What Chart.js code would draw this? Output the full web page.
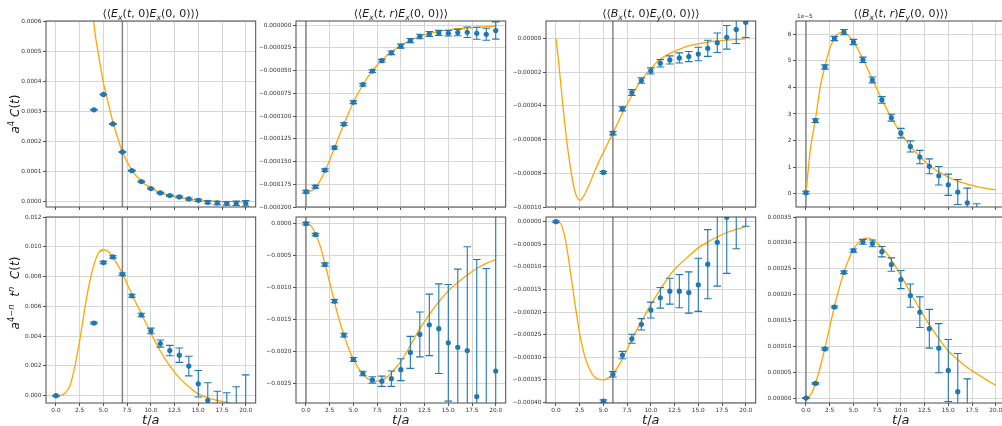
<!DOCTYPE html>
<html><head><meta charset="utf-8">
<script src="https://cdn.jsdelivr.net/npm/chart.js@4.4.1/dist/chart.umd.min.js"></script>
<style>
html,body{margin:0;padding:0;background:#fff;}
#wrap{position:relative;width:1002px;height:426px;overflow:hidden;font-family:"DejaVu Sans",sans-serif;color:#1a1a1a;}
canvas{position:absolute;}
.lbl{position:absolute;white-space:nowrap;line-height:1;}
.lbl sub,.lbl sup{font-size:70%;line-height:0;}
.ttl{font-size:11px;transform:translate(-50%,-50%);}
.yl{font-size:12px;transform:translate(-50%,-50%) rotate(-90deg);}
.xl{font-size:13px;transform:translate(-50%,-50%);}
.off{font-size:5.8px;color:#333;}
</style></head><body><div id="wrap"></div>
<script>
// ---------- shared axis ticks ----------
const xTicks = [0, 2.5, 5, 7.5, 10, 12.5, 15, 17.5, 20];

// ---------- <<E_x(t,0)E_x(0,0)>> ----------
const tA = [4,5,6,7,8,9,10,11,12,13,14,15,16,17,18,19,20];
const cA = [3.05e-4,3.56e-4,2.58e-4,1.65e-4,1.03e-4,6.66e-5,4.33e-5,2.88e-5,2.0e-5,1.55e-5,8.9e-6,4.4e-6,-2.2e-6,-4.4e-6,-5.5e-6,-5.5e-6,-5.5e-6];
const eA = [1.5e-6,1.5e-6,1.5e-6,1.5e-6,1.6e-6,1.7e-6,1.9e-6,2.1e-6,2.4e-6,2.8e-6,3.4e-6,4e-6,4.7e-6,5.5e-6,6.2e-6,7.2e-6,9e-6];
const fitA_t = [3.5,4,4.5,5,5.5,6,6.5,7,8,9,10,11,12,13,14,15,16,17,18,19,20];
const fitA_y = [8.0e-4,5.9e-4,4.85e-4,3.95e-4,3.28e-4,2.65e-4,2.12e-4,1.66e-4,1.05e-4,6.8e-5,4.5e-5,3.0e-5,2.0e-5,1.3e-5,8e-6,5e-6,3e-6,1.2e-6,3e-7,-2e-7,-4e-7];
const yTicksA = [0,1e-4,2e-4,3e-4,4e-4,5e-4,6e-4];

const tA2 = [0,4,5,6,7,8,9,10,11,12,13,14,15,16,17,18,19,20];
const cA2 = [0,0.00488,0.00894,0.00932,0.00816,0.00671,0.00542,0.00435,0.0035,0.00303,0.00272,0.00199,0.0008,-0.00033,-0.0013,-0.0018,-0.002,-0.0022];
const eA2 = [0.00003,0.00006,0.00008,0.00008,0.00008,0.0001,0.00012,0.00019,0.00024,0.00035,0.00048,0.00066,0.00089,0.0012,0.0016,0.002,0.0026,0.0036];
const fitA2_t = [0,0.5,1,1.5,2,2.5,3,3.5,4,4.5,5,5.5,6,6.5,7,8,9,10,11,12,13,14,15,16,17,18,19,20];
const fitA2_y = [0,0.00002,0.0002,0.0007,0.002,0.0037,0.0057,0.0075,0.0088,0.0096,0.0098,0.0097,0.0093,0.0088,0.0082,0.0068,0.0055,0.0042,0.003,0.002,0.0012,0.0006,0.00012,-0.00015,-0.00031,-0.00045,-0.00055,-0.0006];
const yTicksA2 = [0,0.002,0.004,0.006,0.008,0.010,0.012];

// ---------- <<E_x(t,r)E_x(0,0)>> ----------
const tB = [0,1,2,3,4,5,6,7,8,9,10,11,12,13,14,15,16,17,18,19,20];
const cB = [-1.832e-4,-1.777e-4,-1.595e-4,-1.347e-4,-1.088e-4,-8.47e-5,-6.53e-5,-5.04e-5,-3.9e-5,-3.03e-5,-2.3e-5,-1.68e-5,-1.24e-5,-9.5e-6,-8.4e-6,-8.8e-6,-8.0e-6,-7.7e-6,-8.8e-6,-9.9e-6,-5.8e-6];
const eB = [1.5e-6,1.5e-6,1.5e-6,1.5e-6,1.5e-6,1.5e-6,1.5e-6,1.5e-6,1.5e-6,2e-6,2.2e-6,2.3e-6,2.5e-6,2.7e-6,2.8e-6,3e-6,3.5e-6,5.8e-6,6.6e-6,6.6e-6,9.5e-6];
const fitB_t = [0,0.5,1,1.5,2,3,4,5,6,7,8,9,10,11,12,13,14,15,16,17,18,19,20];
const fitB_y = [-1.84e-4,-1.825e-4,-1.79e-4,-1.71e-4,-1.61e-4,-1.35e-4,-1.09e-4,-8.47e-5,-6.55e-5,-5.0e-5,-3.85e-5,-2.92e-5,-2.22e-5,-1.66e-5,-1.23e-5,-9.0e-6,-6.6e-6,-5.0e-6,-3.8e-6,-3.0e-6,-2.4e-6,-1.6e-6,-8e-7];
const yTicksB = [0,-2.5e-5,-5e-5,-7.5e-5,-1e-4,-1.25e-4,-1.5e-4,-1.75e-4,-2e-4];

const tB2 = [0,1,2,3,4,5,6,7,8,9,10,11,12,13,14,15,16,17,18,19,20];
const cB2 = [0,-1.71e-4,-6.38e-4,-1.21e-3,-1.74e-3,-2.12e-3,-2.34e-3,-2.44e-3,-2.46e-3,-2.42e-3,-2.28e-3,-2.01e-3,-1.73e-3,-1.58e-3,-1.64e-3,-1.86e-3,-1.93e-3,-1.98e-3,-2.7e-3,-2.9e-3,-2.3e-3];
const eB2 = [2e-5,2e-5,2.5e-5,2.5e-5,3e-5,3e-5,3.5e-5,5e-5,8e-5,1.2e-4,1.7e-4,2.5e-4,3.5e-4,4.8e-4,7e-4,9.1e-4,1.22e-3,1.62e-3,2.14e-3,2.2e-3,2.8e-3];
const fitB2_t = [0,0.5,1,1.5,2,2.5,3,3.5,4,4.5,5,5.5,6,6.5,7,7.5,8,8.5,9,10,11,12,13,14,15,16,17,18,19,20];
const fitB2_y = [0,-3e-5,-1.5e-4,-3.5e-4,-6.2e-4,-9.2e-4,-1.22e-3,-1.5e-3,-1.74e-3,-1.95e-3,-2.12e-3,-2.25e-3,-2.35e-3,-2.42e-3,-2.45e-3,-2.46e-3,-2.44e-3,-2.4e-3,-2.33e-3,-2.15e-3,-1.9e-3,-1.64e-3,-1.42e-3,-1.22e-3,-1.05e-3,-9.2e-4,-8e-4,-7e-4,-6.2e-4,-5.6e-4];
const yTicksB2 = [0,-5e-4,-1e-3,-1.5e-3,-2e-3,-2.5e-3];

// ---------- <<B_x(t,0)E_y(0,0)>> ----------
const tC = [5,6,7,8,9,10,11,12,13,14,15,16,17,18,19,20];
const cC = [-7.95e-5,-5.62e-5,-4.18e-5,-3.21e-5,-2.5e-5,-1.93e-5,-1.48e-5,-1.28e-5,-1.16e-5,-1.08e-5,-9.3e-6,-5.9e-6,-2.6e-6,6e-7,5.3e-6,9.5e-6];
const eC = [6e-7,1e-6,1.2e-6,1.7e-6,1.6e-6,1.8e-6,2.2e-6,2.4e-6,3.0e-6,3.0e-6,4e-6,4.8e-6,5.8e-6,7e-6,8.3e-6,9e-6];
const fitC_t = [0,0.25,0.5,0.75,1,1.5,2,2.5,3,3.5,4,4.5,5,5.5,6,7,8,9,10,11,12,13,14,15,16,17,18,19,20];
const fitC_y = [0,-1.2e-5,-2.66e-5,-4.1e-5,-5.42e-5,-7.59e-5,-9.07e-5,-9.6e-5,-9.27e-5,-8.68e-5,-7.99e-5,-7.34e-5,-6.77e-5,-6.17e-5,-5.62e-5,-4.44e-5,-3.39e-5,-2.47e-5,-1.78e-5,-1.24e-5,-8.9e-6,-6.5e-6,-4.5e-6,-3.2e-6,-2.2e-6,-1.5e-6,-1e-6,-6e-7,-3e-7];
const yTicksC = [0,-2e-5,-4e-5,-6e-5,-8e-5,-1e-4];

const tC2 = [0,5,6,7,8,9,10,11,12,13,14,15,16,17,18,19,20];
const cC2 = [0,-3.97e-4,-3.375e-4,-2.95e-4,-2.59e-4,-2.27e-4,-1.956e-4,-1.684e-4,-1.537e-4,-1.537e-4,-1.566e-4,-1.397e-4,-9.41e-5,-4.56e-5,9.6e-6,1.0e-4,1.9e-4];
const eC2 = [2e-6,3e-6,5.9e-6,8.1e-6,1e-5,1.25e-5,1.76e-5,2.28e-5,2.87e-5,3.68e-5,4.56e-5,5.88e-5,7.64e-5,9.7e-5,1.24e-4,1.6e-4,2e-4];
const fitC2_t = [0,0.5,1,1.5,2,2.5,3,3.5,4,4.5,5,5.5,6,7,8,9,10,11,12,13,14,15,16,17,18,19,20];
const fitC2_y = [0,-4.4e-6,-4.1e-5,-1.07e-4,-1.81e-4,-2.47e-4,-2.95e-4,-3.24e-4,-3.42e-4,-3.49e-4,-3.5e-4,-3.46e-4,-3.37e-4,-3.04e-4,-2.6e-4,-2.21e-4,-1.83e-4,-1.5e-4,-1.18e-4,-9.5e-5,-7.6e-5,-5.8e-5,-4.5e-5,-3.4e-5,-2.4e-5,-1.7e-5,-1.1e-5];
const yTicksC2 = [0,-5e-5,-1e-4,-1.5e-4,-2e-4,-2.5e-4,-3e-4,-3.5e-4,-4e-4];

// ---------- <<B_x(t,r)E_y(0,0)>> ----------
const tD = [0,1,2,3,4,5,6,7,8,9,10,11,12,13,14,15,16,17,18];
const cD = [4e-7,2.75e-5,4.77e-5,5.84e-5,6.08e-5,5.71e-5,5.04e-5,4.28e-5,3.53e-5,2.86e-5,2.28e-5,1.78e-5,1.38e-5,1.03e-5,6.76e-6,3.38e-6,6.3e-7,-3.4e-6,-9.5e-6];
const eD = [5e-7,7e-7,8e-7,8e-7,1e-6,1e-6,1e-6,1.1e-6,1.25e-6,1.3e-6,1.8e-6,2.1e-6,2.5e-6,2.8e-6,3.5e-6,4e-6,4.7e-6,5.5e-6,5.7e-6];
const fitD_t = [0,0.25,0.5,1,1.5,2,2.5,3,3.5,4,4.5,5,6,7,8,9,10,11,12,13,14,15,16,17,18,19,20];
const fitD_y = [0,9.5e-6,1.75e-5,2.8e-5,4.0e-5,4.8e-5,5.45e-5,5.85e-5,6.05e-5,6.08e-5,5.95e-5,5.72e-5,5.07e-5,4.3e-5,3.55e-5,2.86e-5,2.27e-5,1.79e-5,1.4e-5,1.06e-5,8.2e-6,6.2e-6,4.7e-6,3.6e-6,2.7e-6,2.0e-6,1.5e-6];
const yTicksD = [0,1e-5,2e-5,3e-5,4e-5,5e-5,6e-5];

const tD2 = [0,1,2,3,4,5,6,7,8,9,10,11,12,13,14,15,16,17];
const cD2 = [0,2.83e-5,9.5e-5,1.76e-4,2.43e-4,2.85e-4,3.02e-4,2.99e-4,2.83e-4,2.58e-4,2.29e-4,1.98e-4,1.66e-4,1.34e-4,9.63e-5,5.33e-5,1.22e-5,-5.6e-5];
const eD2 = [1e-6,1.5e-6,2e-6,2e-6,2.5e-6,3e-6,4.8e-6,6.4e-6,1e-5,1.3e-5,1.75e-5,2.25e-5,2.95e-5,3.75e-5,4.75e-5,6e-5,7.4e-5,9.3e-5];
const fitD2_t = [0,0.5,1,1.5,2,2.5,3,3.5,4,4.5,5,5.5,6,6.5,7,8,9,10,11,12,13,14,15,16,17,18,19,20];
const fitD2_y = [0,6e-6,2.8e-5,6e-5,9.7e-5,1.37e-4,1.77e-4,2.12e-4,2.43e-4,2.68e-4,2.87e-4,3.0e-4,3.07e-4,3.09e-4,3.06e-4,2.91e-4,2.67e-4,2.37e-4,2.04e-4,1.72e-4,1.42e-4,1.15e-4,9.1e-5,7.4e-5,5.9e-5,4.7e-5,3.55e-5,2.44e-5];
const yTicksD2 = [0,5e-5,1e-4,1.5e-4,2e-4,2.5e-4,3e-4,3.5e-4];

// ---------- layout ----------
const PW = 209.7, PH = 186;
const colLeft = [46, 296, 546, 796];
const rowTop = [21, 217];
const fix = (d, m) => v => { let s = (v * (m || 1)).toFixed(d); if (/^-0\.?0*$/.test(s)) s = s.slice(1); return s.replace('-', '\u2212'); };

const panels = [
  {col:0,row:0,t:tA,v:cA,e:eA,ft:fitA_t,fv:fitA_y,ymin:-1.78e-5,ymax:6e-4,yt:yTicksA,fmt:fix(4),vline:7},
  {col:1,row:0,t:tB,v:cB,e:eB,ft:fitB_t,fv:fitB_y,ymin:-2.0e-4,ymax:4.7e-6,yt:yTicksB,fmt:fix(6),vline:0},
  {col:2,row:0,t:tC,v:cC,e:eC,ft:fitC_t,fv:fitC_y,ymin:-1.0e-4,ymax:1.03e-5,yt:yTicksC,fmt:fix(5),vline:6},
  {col:3,row:0,t:tD,v:cD,e:eD,ft:fitD_t,fv:fitD_y,ymin:-0.5e-5,ymax:6.5e-5,yt:yTicksD,fmt:fix(0,1e5),vline:0},
  {col:0,row:1,t:tA2,v:cA2,e:eA2,ft:fitA2_t,fv:fitA2_y,ymin:-4.9e-4,ymax:0.012,yt:yTicksA2,fmt:fix(3),vline:7},
  {col:1,row:1,t:tB2,v:cB2,e:eB2,ft:fitB2_t,fv:fitB2_y,ymin:-2.8e-3,ymax:1.04e-4,yt:yTicksB2,fmt:fix(4),vline:0},
  {col:2,row:1,t:tC2,v:cC2,e:eC2,ft:fitC2_t,fv:fitC2_y,ymin:-4.01e-4,ymax:1.03e-5,yt:yTicksC2,fmt:fix(5),vline:6},
  {col:3,row:1,t:tD2,v:cD2,e:eD2,ft:fitD2_t,fv:fitD2_y,ymin:-9.6e-6,ymax:3.5e-4,yt:yTicksD2,fmt:fix(5),vline:0}
];

Chart.defaults.font.family = 'DejaVu Sans';
const wrap = document.getElementById('wrap');
const YW = 50, TOPP = 10, XH = 18;
const tickFont = {size:5.8, family:'DejaVu Sans'};

function makePlugin(p){
  return {
    id:'decor',
    beforeDatasetsDraw(chart){
      const {ctx, chartArea:a, scales:{x}} = chart;
      const px = x.getPixelForValue(p.vline);
      ctx.save(); ctx.beginPath(); ctx.rect(a.left,a.top,a.width,a.height); ctx.clip();
      ctx.strokeStyle = '#858585'; ctx.lineWidth = 1.5;
      ctx.beginPath(); ctx.moveTo(px,a.top); ctx.lineTo(px,a.bottom); ctx.stroke();
      ctx.restore();
    },
    beforeDatasetDraw(chart, args){
      if (args.index !== 0) return;
      const {ctx, chartArea:a, scales:{x,y}} = chart;
      ctx.save(); ctx.beginPath(); ctx.rect(a.left,a.top,a.width,a.height); ctx.clip();
      ctx.strokeStyle = '#1f77b4'; ctx.lineWidth = 1.1;
      const cap = 3.8;
      p.t.forEach((t,k)=>{
        const px = x.getPixelForValue(t);
        const y1 = y.getPixelForValue(p.v[k]-p.e[k]);
        const y2 = y.getPixelForValue(p.v[k]+p.e[k]);
        ctx.beginPath();
        ctx.moveTo(px,y1); ctx.lineTo(px,y2);
        ctx.moveTo(px-cap,y1); ctx.lineTo(px+cap,y1);
        ctx.moveTo(px-cap,y2); ctx.lineTo(px+cap,y2);
        ctx.stroke();
      });
      ctx.restore();
    },
    afterDatasetsDraw(chart){
      const {ctx, chartArea:a} = chart;
      ctx.save(); ctx.strokeStyle = '#4a4a4a'; ctx.lineWidth = 1;
      ctx.strokeRect(a.left, a.top, a.width, a.height);
      ctx.restore();
    }
  };
}

panels.forEach(p=>{
  const cv = document.createElement('canvas');
  const W = 272, H = TOPP + PH + XH;
  cv.width = W; cv.height = H;
  cv.style.left = (colLeft[p.col]-YW)+'px';
  cv.style.top = (rowTop[p.row]-TOPP)+'px';
  cv.style.width = W+'px'; cv.style.height = H+'px';
  wrap.appendChild(cv);
  new Chart(cv, {
    type:'scatter',
    data:{datasets:[
      {data:p.t.map((x,k)=>({x, y:p.v[k]})), pointRadius:2.6, pointHoverRadius:2.6, backgroundColor:'#1f77b4', borderColor:'#1f77b4', pointBorderWidth:0, showLine:false},
      {data:p.ft.map((x,k)=>({x, y:p.fv[k]})), showLine:true, pointRadius:0, pointHoverRadius:0, borderColor:'#ffa500', backgroundColor:'#ffa500', borderWidth:1.3, cubicInterpolationMode:'monotone', fill:false}
    ]},
    options:{
      responsive:false, animation:false, devicePixelRatio:1, events:[],
      layout:{padding:{left:0, top:TOPP, right:W-YW-PW, bottom:0}},
      plugins:{legend:{display:false}, tooltip:{enabled:false}, title:{display:false}},
      scales:{
        x:{type:'linear', min:-1.05, max:21.05,
           afterBuildTicks:s=>{s.ticks = xTicks.map(v=>({value:v}));},
           afterFit:s=>{s.height = XH;},
           grid:{color:'#d6d6d6', tickColor:'#555', tickLength:3, lineWidth:1},
           border:{display:false},
           ticks:{display:p.row===1, font:tickFont, color:'#333', padding:1.5, maxRotation:0, autoSkip:false, callback:v=>v.toFixed(1)}},
        y:{type:'linear', min:p.ymin, max:p.ymax,
           afterBuildTicks:s=>{s.ticks = p.yt.map(v=>({value:v}));},
           afterFit:s=>{s.width = YW;},
           grid:{color:'#d6d6d6', tickColor:'#555', tickLength:3, lineWidth:1},
           border:{display:false},
           ticks:{font:tickFont, color:'#333', padding:1.5, autoSkip:false, callback:v=>p.fmt(v)}}
      }
    },
    plugins:[makePlugin(p)]
  });
});

// ---------- text ----------
function addLabel(cls, html, x, y){
  const d = document.createElement('div');
  d.className = 'lbl '+cls; d.innerHTML = html;
  d.style.left = x+'px'; d.style.top = y+'px';
  wrap.appendChild(d);
}
const titles = [
  '\u27E8\u27E8<i>E</i><sub><i>x</i></sub>(<i>t</i>, 0)<i>E</i><sub><i>x</i></sub>(0, 0)\u27E9\u27E9',
  '\u27E8\u27E8<i>E</i><sub><i>x</i></sub>(<i>t</i>, <i>r</i>)<i>E</i><sub><i>x</i></sub>(0, 0)\u27E9\u27E9',
  '\u27E8\u27E8<i>B</i><sub><i>x</i></sub>(<i>t</i>, 0)<i>E</i><sub><i>y</i></sub>(0, 0)\u27E9\u27E9',
  '\u27E8\u27E8<i>B</i><sub><i>x</i></sub>(<i>t</i>, <i>r</i>)<i>E</i><sub><i>y</i></sub>(0, 0)\u27E9\u27E9'
];
titles.forEach((h,i)=>addLabel('ttl', h, colLeft[i]+PW/2, 13));
for (let i=0;i<4;i++) addLabel('xl', '<i>t</i>/<i>a</i>', colLeft[i]+PW/2, 419);
addLabel('yl', '<i>a</i><sup>4</sup> <i>C</i>(<i>t</i>)', 15, 114);
addLabel('yl', '<i>a</i><sup>4\u2212<i>n</i></sup>&nbsp;&nbsp;<i>t</i><sup><i>n</i></sup>&nbsp;&nbsp;<i>C</i>(<i>t</i>)', 15, 293);
addLabel('off', '1e\u22125', 797, 14);
</script></body></html>
